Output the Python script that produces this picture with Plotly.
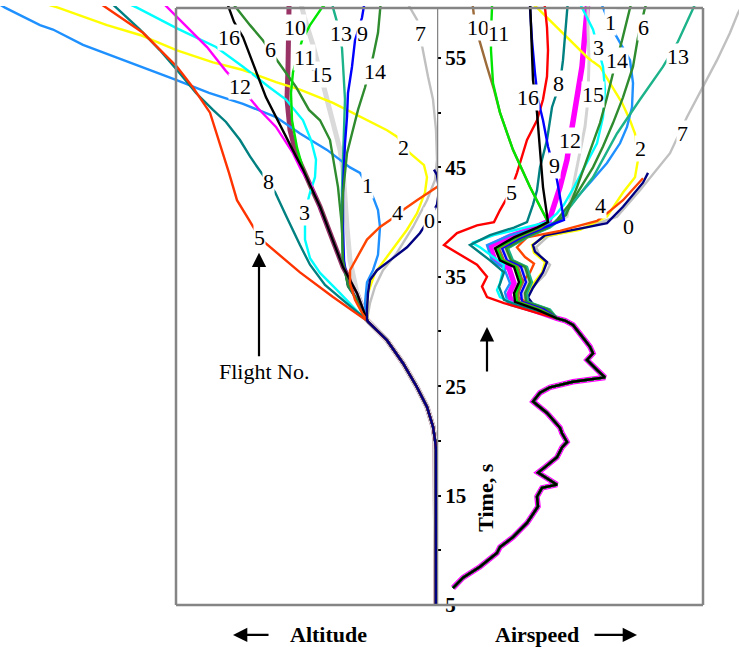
import plotly.graph_objects as go

# ---------------------------------------------------------------------------
# Data: time (s) against altitude / airspeed (relative units) for flights 0-16
# ---------------------------------------------------------------------------
TIME_TICKS = [5, 10, 15, 20, 25, 30, 35, 40, 45, 50, 55]
TIME_TICK_TEXT = ["5", "", "15", "", "25", "", "35", "", "45", "", "55"]

# common part of the run before the flights separate
STEM_ALT = [(5.0, 1), (19.2, 1), (20.1, 2), (21.3, 4), (23.1, 10), (24.9, 20),
            (27.1, 34), (29.2, 50), (30.9, 69)]
STEM_SPD = [(6.55, 16), (7.5, 26), (8.5, 43), (9.75, 60), (10.3, 63), (11.2, 76),
            (12.5, 90), (14.0, 101), (14.9, 100), (15.7, 105), (16.0, 120),
            (16.7, 108), (17.1, 101), (17.6, 108), (18.5, 120), (19.4, 125),
            (19.9, 130), (20.7, 125), (21.2, 123), (22.55, 110), (23.3, 100),
            (23.6, 96), (24.4, 103), (24.9, 113), (25.4, 136), (25.8, 168),
            (26.5, 160), (27.4, 150), (28.0, 156), (28.6, 153), (29.2, 148),
            (30.6, 136), (31.0, 128)]

ALT_0 = [(31.05, 70), (32.0, 70), (33.5, 69), (34.7, 67), (35.6, 60), (36.5, 47),
         (37.7, 30), (39.0, 17), (40.4, 7), (41.6, 0), (42.9, -2), (44.3, 0), (44.8, 3)]
SPD_0 = [(31.2, 120), (32.0, 100), (33.1, 91), (34.0, 96), (35.4, 106), (36.35, 110),
         (37.3, 98), (37.9, 96), (38.8, 108), (39.4, 143), (39.9, 170), (41.4, 186),
         (43.6, 206), (44.5, 211)]

ALT_1 = [(31.05, 71), (32.6, 72), (34.5, 70), (35.6, 64), (37.0, 59), (39.55, 57),
         (41.1, 59), (42.3, 64), (44.5, 77), (45.0, 87), (46.6, 110), (48.1, 137),
         (49.6, 161), (50.8, 194), (51.8, 228), (53.0, 261), (54.5, 304), (56.2, 354),
         (57.6, 384), (58.0, 397), (59.6, 432), (60.3, 445)]
SPD_1 = [(31.2, 120), (31.8, 98), (32.5, 71), (33.6, 68), (34.4, 73), (35.8, 67),
         (36.5, 55), (37.9, 50), (38.8, 73), (39.5, 103), (40.0, 118), (42.0, 138),
         (43.6, 153), (45.4, 170), (47.2, 183), (48.7, 190), (50.5, 195), (52.7, 196),
         (54.8, 193), (56.4, 183), (58.0, 173), (59.6, 166), (60.3, 163)]

ALT_2 = [(31.05, 70), (32.0, 70), (33.5, 69), (35.35, 62), (37.2, 47), (39.3, 30),
         (40.8, 20), (42.7, 12), (44.1, 10), (45.2, 13), (46.3, 27), (47.8, 40),
         (48.4, 50), (49.3, 70), (50.9, 104), (52.1, 137), (52.8, 161), (53.9, 194),
         (54.6, 224), (55.7, 260), (57.1, 297), (58.0, 330), (59.6, 379), (60.1, 397)]
SPD_2 = [(31.2, 120), (32.0, 100), (33.2, 89), (34.1, 94), (35.4, 105), (36.35, 108),
         (37.2, 97), (37.9, 95), (38.7, 108), (39.3, 143), (40.5, 170), (42.7, 186),
         (44.1, 198), (45.7, 201), (48.1, 198), (49.3, 193), (50.9, 185), (52.7, 173),
         (54.2, 163), (55.0, 151), (57.3, 126), (59.6, 100), (60.3, 91)]

ALT_3 = [(31.2, 73), (33.5, 97), (35.35, 117), (36.7, 127), (38.4, 132), (40.9, 132),
         (42.7, 127), (44.1, 122), (45.7, 121), (47.5, 126), (49.3, 134), (51.2, 151),
         (52.35, 168), (54.2, 194), (56.0, 221), (57.7, 260), (59.6, 300), (60.3, 317)]
SPD_3 = [(31.2, 120), (31.8, 100), (32.5, 78), (33.15, 63), (33.8, 60), (34.4, 63),
         (36.1, 67), (37.7, 43), (38.1, 35), (38.8, 57), (39.3, 80), (39.7, 97),
         (40.0, 110), (40.8, 120), (41.6, 127), (43.2, 137), (45.4, 150), (47.2, 160),
         (49.6, 166), (52.1, 168), (54.2, 166), (57.6, 156), (58.7, 150), (59.6, 145),
         (60.3, 141)]

ALT_4 = [(31.05, 70), (31.7, 75), (32.9, 82), (34.4, 87), (35.6, 87), (36.8, 80),
         (38.4, 70), (39.55, 57), (40.3, 45), (41.1, 34), (42.0, 20), (43.2, 0), (43.5, -3)]
SPD_4 = [(31.2, 120), (32.0, 100), (33.15, 81), (34.25, 83), (35.4, 93), (36.2, 97),
         (36.8, 88), (37.7, 80), (38.6, 90), (39.2, 123), (40.1, 160), (40.8, 170),
         (42.0, 186), (44.0, 206)]

ALT_5 = [(30.9, 69), (33.15, 104), (35.4, 137), (37.3, 162), (38.5, 177), (40.2, 188),
         (42.0, 200), (44.5, 208), (46.6, 215), (50.0, 227), (52.3, 244), (54.2, 260),
         (57.3, 294), (59.6, 330), (60.3, 342)]
SPD_5 = [(31.2, 120), (31.7, 100), (32.6, 67), (33.15, 50), (34.1, 45), (35.0, 50),
         (36.1, 40), (36.8, 27), (37.9, 7), (39.0, 20), (39.7, 40), (40.0, 57),
         (41.1, 63), (42.7, 73), (44.5, 80), (47.5, 90), (49.3, 100), (51.2, 106),
         (53.3, 110), (55.7, 111), (57.8, 110), (59.6, 108), (60.3, 107)]

ALT_6 = [(31.05, 70), (32.9, 80), (34.1, 89), (36.5, 94), (39.55, 95), (43.2, 99),
         (45.7, 104), (47.5, 107), (49.3, 117), (50.25, 128), (52.35, 141), (54.5, 158),
         (56.6, 174), (58.0, 187), (59.6, 201), (60.3, 207)]
SPD_6 = [(31.2, 120), (32.0, 112), (32.7, 90), (33.5, 89), (34.5, 94), (35.9, 89),
         (36.5, 75), (37.6, 70), (38.6, 89), (39.5, 112), (40.2, 120), (42.3, 138),
         (45.0, 156), (46.9, 166), (49.05, 176), (51.4, 186), (54.2, 196), (56.9, 201),
         (59.6, 208), (60.3, 211)]

ALT_7 = [(31.05, 70), (32.6, 67), (34.1, 62), (35.6, 54), (37.2, 40), (39.55, 24),
         (42.0, 10), (43.85, 2), (45.7, 0), (48.4, 1), (51.2, 4), (53.3, 9), (55.7, 14),
         (58.5, 20), (59.6, 27), (60.3, 31)]
SPD_7 = [(31.2, 120), (32.0, 100), (33.1, 88), (33.8, 93), (35.2, 108), (36.1, 113),
         (36.9, 103), (37.7, 99), (38.7, 111), (39.5, 148), (40.5, 180), (42.9, 203),
         (44.8, 220), (46.3, 233), (49.6, 250), (52.35, 266), (54.8, 280), (57.3, 293),
         (59.1, 301), (60.3, 308)]

ALT_8 = [(31.05, 70), (32.7, 92), (34.25, 112), (36.1, 127), (37.9, 137), (40.4, 150),
         (42.75, 162), (44.8, 178), (46.0, 187), (47.5, 197), (49.15, 211), (50.25, 224),
         (51.8, 241), (53.9, 260), (55.7, 277), (57.6, 297), (59.6, 320), (60.3, 329)]
SPD_8 = [(31.2, 120), (31.9, 100), (32.4, 80), (32.9, 67), (34.1, 62), (35.4, 67),
         (36.5, 53), (37.9, 33), (38.8, 53), (39.5, 77), (40.0, 90), (41.6, 96),
         (42.9, 100), (45.0, 103), (47.5, 110), (50.5, 115), (52.7, 123), (54.8, 126),
         (57.3, 128), (59.6, 130), (60.3, 131)]

ALT_9 = [(31.05, 70), (32.9, 80), (34.25, 89), (36.5, 93), (39.55, 94), (42.9, 94),
         (45.7, 93), (47.2, 92), (49.6, 90), (51.8, 89), (54.2, 85), (56.6, 82),
         (58.7, 75), (59.6, 73), (60.3, 72)]
SPD_9 = [(31.2, 120), (32.0, 107), (32.7, 85), (33.5, 84), (34.5, 89), (35.9, 84),
         (36.5, 70), (37.6, 65), (38.6, 84), (39.5, 107), (40.2, 127), (43.85, 120),
         (46.9, 111), (49.3, 106), (51.2, 101), (53.6, 98), (56.6, 95), (59.6, 93),
         (60.3, 93)]

ALT_10 = [(31.05, 70), (33.5, 80), (35.9, 94), (39.0, 107), (41.4, 117), (43.2, 126),
          (44.8, 134), (46.3, 141), (48.4, 147), (51.2, 150), (54.2, 149), (56.6, 148),
          (59.6, 148), (60.3, 148)]
SPD_10 = [(31.2, 120), (32.0, 104), (32.7, 82), (33.5, 81), (34.5, 86), (35.9, 81),
          (36.5, 67), (37.6, 62), (38.6, 81), (39.5, 104), (40.0, 111), (43.2, 93),
          (46.6, 76), (50.0, 63), (52.1, 57), (54.2, 50), (56.4, 43), (58.0, 38),
          (59.6, 36), (60.3, 35)]

ALT_11 = [(31.05, 70), (33.5, 80), (35.9, 94), (39.0, 107), (41.4, 117), (43.2, 126),
          (44.9, 134), (46.8, 140), (49.3, 145), (51.8, 146), (53.7, 144), (56.6, 135),
          (58.0, 127), (59.6, 115), (60.3, 107)]
SPD_11 = [(31.2, 120), (32.0, 102), (32.7, 80), (33.5, 79), (34.5, 84), (35.9, 79),
          (36.5, 65), (37.6, 60), (38.6, 79), (39.5, 102), (40.0, 111), (43.2, 93),
          (46.6, 76), (50.0, 63), (52.7, 56), (55.7, 54), (57.3, 54), (59.6, 55),
          (60.3, 55)]

ALT_12 = [(31.05, 70), (33.5, 80), (35.9, 94), (39.0, 107), (41.4, 117), (43.4, 126),
          (44.8, 136), (46.3, 144), (48.7, 161), (50.4, 179), (52.3, 196), (53.8, 211),
          (56.0, 230), (57.8, 250), (59.6, 270), (60.3, 277)]
SPD_12 = [(31.2, 120), (31.9, 98), (32.6, 75), (33.4, 72), (34.4, 77), (35.8, 72),
          (36.4, 58), (37.8, 53), (38.7, 73), (39.5, 98), (40.1, 112), (43.2, 123),
          (45.7, 130), (47.5, 133), (49.3, 136), (51.8, 141), (54.2, 145), (57.3, 148),
          (59.6, 150), (60.3, 151)]

ALT_13 = [(31.05, 70), (32.9, 80), (34.25, 89), (36.5, 94), (39.55, 95), (42.9, 95),
          (45.7, 94), (48.4, 93), (51.2, 92), (54.4, 94), (55.9, 95), (58.3, 100),
          (59.6, 104), (60.3, 105)]
SPD_13 = [(31.2, 120), (32.0, 113), (32.7, 91), (33.5, 90), (34.5, 95), (35.9, 90),
          (36.5, 76), (37.6, 71), (38.6, 90), (39.5, 113), (40.2, 123), (44.1, 156),
          (48.1, 180), (51.2, 203), (54.2, 226), (56.5, 241), (59.6, 256), (60.3, 260)]

ALT_14 = [(31.05, 70), (32.9, 80), (34.25, 89), (36.5, 94), (39.55, 95), (42.7, 94),
          (44.8, 92), (46.3, 90), (48.1, 85), (50.25, 79), (52.3, 72), (55.1, 64),
          (57.3, 59), (59.6, 57), (60.3, 56)]
SPD_14 = [(31.2, 120), (32.0, 111), (32.7, 89), (33.5, 88), (34.5, 93), (35.9, 88),
          (36.5, 74), (37.6, 69), (38.6, 88), (39.5, 111), (40.65, 129), (43.2, 140),
          (46.6, 153), (49.05, 163), (51.4, 170), (53.6, 176), (56.6, 185), (59.6, 193),
          (60.3, 195)]

ALT_15 = [(31.05, 70), (33.5, 80), (36.5, 87), (39.55, 90), (42.7, 92), (44.8, 94),
          (46.6, 97), (49.1, 104), (52.35, 114), (56.2, 124), (58.5, 132), (59.6, 135),
          (60.3, 137)]
SPD_15 = [(31.2, 120), (32.0, 109), (32.7, 87), (33.5, 86), (34.5, 91), (35.9, 86),
          (36.5, 72), (37.6, 67), (38.6, 86), (39.5, 109), (40.5, 130), (43.2, 136),
          (46.3, 143), (48.7, 148), (51.2, 151), (54.8, 152), (57.6, 151), (60.3, 151)]

ALT_16 = [(31.05, 70), (33.5, 80), (35.9, 94), (39.0, 107), (41.4, 117), (43.2, 126),
          (44.8, 134), (46.0, 141), (48.4, 154), (51.4, 171), (54.5, 184), (56.9, 194),
          (58.3, 203), (59.6, 208), (60.3, 211)]
SPD_16 = [(31.2, 120), (32.0, 100), (32.7, 78), (33.5, 77), (34.5, 82), (35.9, 77),
          (36.5, 63), (37.6, 58), (38.6, 77), (39.5, 100), (40.0, 111), (43.2, 106),
          (46.6, 103), (50.0, 100), (53.0, 96), (55.7, 95), (59.6, 93), (60.3, 93)]

ALT_PATHS = [ALT_0, ALT_1, ALT_2, ALT_3, ALT_4, ALT_5, ALT_6, ALT_7, ALT_8,
             ALT_9, ALT_10, ALT_11, ALT_12, ALT_13, ALT_14, ALT_15, ALT_16]
SPD_PATHS = [SPD_0, SPD_1, SPD_2, SPD_3, SPD_4, SPD_5, SPD_6, SPD_7, SPD_8,
             SPD_9, SPD_10, SPD_11, SPD_12, SPD_13, SPD_14, SPD_15, SPD_16]

# ---------------------------------------------------------------------------
# Styling
# ---------------------------------------------------------------------------
ALT_COLOR = ["#000080", "#1E90FF", "#FFFF00", "#00FFFF", "#FF4500", "#FF3300",
             "#2E8B2E", "#C0C0C0", "#008080", "#0000FF", "#993366", "#00E600",
             "#FF00FF", "#1DB38A", "#2E8B2E", "#DADADA", "#000000"]
SPD_COLOR = ["#000080", "#1E90FF", "#FFFF00", "#00FFFF", "#FF4500", "#FF0000",
             "#2E8B2E", "#C0C0C0", "#008080", "#0000FF", "#9C6B3A", "#00E600",
             "#FF00FF", "#1DB38A", "#2E8B2E", "#D3D3D3", "#000000"]
ALT_WIDTH = {10: 5.0, 15: 5.0}
SPD_WIDTH = {12: 5.5, 15: 3.0}
BASE_WIDTH = 2.4

ALT_ORDER = [10, 15, 7, 2, 1, 3, 8, 5, 6, 13, 9, 14, 11, 12, 16, 4, 0]
SPD_ORDER = [12, 15, 7, 2, 0, 4, 1, 3, 8, 5, 6, 13, 14, 9, 10, 11, 16]

# label placement (time, value) for each flight number
ALT_LABEL_AT = {0: (40.1, 8), 1: (43.3, 70), 2: (46.86, 34), 3: (40.92, 133),
                4: (40.83, 40), 5: (38.55, 178), 6: (55.82, 167), 7: (57.28, 17),
                8: (43.67, 169), 9: (57.28, 75), 10: (57.83, 142), 11: (55.0, 133),
                12: (52.35, 197), 13: (57.28, 96), 14: (53.72, 62), 15: (53.45, 116),
                16: (56.83, 208)}
SPD_LABEL_AT = {0: (39.64, 191), 1: (58.2, 173), 2: (46.77, 203), 3: (56.0, 161),
                4: (41.47, 163), 5: (42.66, 74), 6: (57.74, 206), 7: (48.14, 245),
                8: (52.71, 121), 9: (45.13, 117), 10: (57.74, 41), 11: (57.28, 61),
                12: (47.5, 133), 13: (55.09, 241), 14: (54.73, 180), 15: (51.62, 156),
                16: (51.43, 91)}
# labels stacked so that later ones sit on top
ALT_LABEL_ORDER = [0, 1, 2, 3, 4, 5, 6, 7, 8, 9, 10, 12, 13, 14, 16, 15, 11]

SERIF = "Liberation Serif, Times New Roman, serif"
FRAME = "#858585"

ALT_RANGE = [437, 0]      # altitude grows to the left
SPD_RANGE = [0, 302]
T_RANGE = [1.16, 59.75]
ALT_EDGE = 261            # outer edge of the altitude frame
SPD_EDGE = 266            # outer edge of the airspeed frame
T_LOW, T_HIGH = 5.0, 59.57
SPLIT = 437 / 739

fig = go.Figure()


def split(points):
    return [p[0] for p in points], [p[1] for p in points]


for f in ALT_ORDER:
    t, v = split(STEM_ALT + ALT_PATHS[f])
    fig.add_trace(go.Scatter(x=v, y=t, mode="lines", xaxis="x", yaxis="y",
                             line=dict(color=ALT_COLOR[f], width=ALT_WIDTH.get(f, BASE_WIDTH)),
                             hoverinfo="skip", showlegend=False))

for f in SPD_ORDER:
    t, v = split(STEM_SPD + SPD_PATHS[f])
    fig.add_trace(go.Scatter(x=v, y=t, mode="lines", xaxis="x2", yaxis="y",
                             line=dict(color=SPD_COLOR[f], width=SPD_WIDTH.get(f, BASE_WIDTH)),
                             hoverinfo="skip", showlegend=False))

# frame around both panels and the divider
frame_line = dict(color=FRAME, width=2.5)
shapes = [
    dict(type="line", xref="x", yref="y", x0=ALT_EDGE, x1=ALT_EDGE, y0=T_LOW, y1=T_HIGH, line=frame_line),
    dict(type="line", xref="x", yref="y", x0=ALT_EDGE, x1=0, y0=T_HIGH, y1=T_HIGH, line=frame_line),
    dict(type="line", xref="x", yref="y", x0=ALT_EDGE, x1=0, y0=T_LOW, y1=T_LOW, line=frame_line),
    dict(type="line", xref="x2", yref="y", x0=0, x1=SPD_EDGE, y0=T_HIGH, y1=T_HIGH, line=frame_line),
    dict(type="line", xref="x2", yref="y", x0=0, x1=SPD_EDGE, y0=T_LOW, y1=T_LOW, line=frame_line),
    dict(type="line", xref="x2", yref="y", x0=SPD_EDGE, x1=SPD_EDGE, y0=T_LOW, y1=T_HIGH, line=frame_line),
    dict(type="line", xref="x2", yref="y", x0=0, x1=0, y0=T_LOW, y1=T_HIGH, line=frame_line),
]

annotations = []
label_font = dict(family=SERIF, size=22, color="black")
for f in ALT_LABEL_ORDER:
    t, a = ALT_LABEL_AT[f]
    annotations.append(dict(x=a, y=t, xref="x", yref="y", text=str(f), showarrow=False,
                            font=label_font, bgcolor="white", borderpad=0))
for f in range(17):
    t, s = SPD_LABEL_AT[f]
    annotations.append(dict(x=s, y=t, xref="x2", yref="y", text=str(f), showarrow=False,
                            font=label_font, bgcolor="white", borderpad=0))

arrow = dict(showarrow=True, arrowhead=2, arrowsize=1.3, arrowwidth=2.2,
             arrowcolor="black", text="", standoff=0)
# "Flight No." pointer
annotations.append(dict(x=178, y=37.2, xref="x", yref="y", ax=178, ay=27.6,
                        axref="x", ayref="y", **arrow))
annotations.append(dict(x=173, y=26.3, xref="x", yref="y", text="Flight No.",
                        showarrow=False, font=label_font))
# time direction arrow
annotations.append(dict(x=50, y=30.4, xref="x2", yref="y", ax=50, ay=26.2,
                        axref="x2", ayref="y", **arrow))
annotations.append(dict(x=49, y=14.8, xref="x2", yref="y", text="<b>Time, s</b>",
                        textangle=-90, showarrow=False,
                        font=dict(family=SERIF, size=22, color="black")))
# panel captions with direction arrows
annotations.append(dict(x=204, y=2.26, xref="x", yref="y", ax=167, ay=2.26,
                        axref="x", ayref="y", **arrow))
annotations.append(dict(x=109, y=2.26, xref="x", yref="y", text="<b>Altitude</b>",
                        showarrow=False, font=dict(family=SERIF, size=22, color="black")))
annotations.append(dict(x=200, y=2.26, xref="x2", yref="y", ax=156, ay=2.26,
                        axref="x2", ayref="y", **arrow))
annotations.append(dict(x=100, y=2.26, xref="x2", yref="y", text="<b>Airspeed</b>",
                        showarrow=False, font=dict(family=SERIF, size=22, color="black")))

fig.update_layout(
    width=739, height=647,
    margin=dict(l=0, r=0, t=0, b=0),
    paper_bgcolor="white", plot_bgcolor="white",
    showlegend=False,
    xaxis=dict(domain=[0, SPLIT], range=ALT_RANGE, visible=False, anchor="y"),
    xaxis2=dict(domain=[SPLIT, 1], range=SPD_RANGE, visible=False, anchor="y"),
    yaxis=dict(domain=[0, 641 / 647], range=T_RANGE, anchor="free", position=SPLIT,
               side="right", showline=False, showgrid=False, zeroline=False,
               tickmode="array", tickvals=TIME_TICKS,
               ticktext=[f"<b>{s}</b>" if s else "" for s in TIME_TICK_TEXT],
               ticks="outside", ticklen=3, tickwidth=2, tickcolor="black",
               tickfont=dict(family=SERIF, size=21, color="black")),
    shapes=shapes,
    annotations=annotations,
)

fig.write_html("out.html")
